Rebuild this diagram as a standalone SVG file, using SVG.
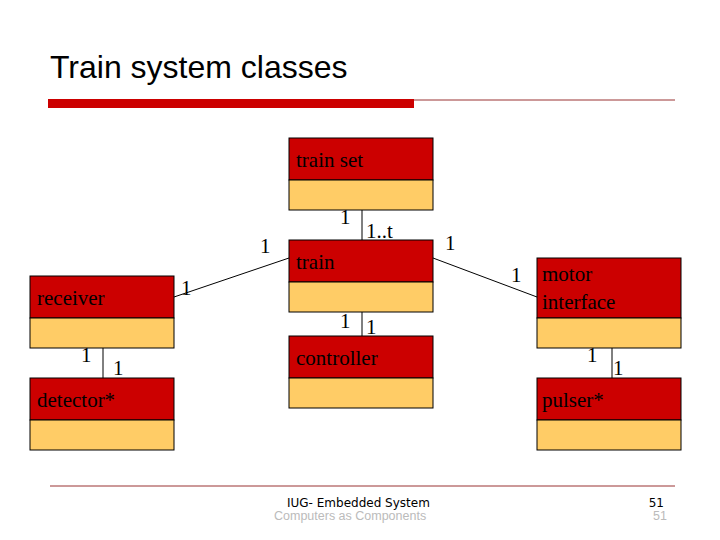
<svg xmlns="http://www.w3.org/2000/svg" width="720" height="540" viewBox="0 0 720 540">
<style>
.h{fill:#cc0000;stroke:#000;stroke-width:1}
.b{fill:#ffcc66;stroke:#000;stroke-width:1}
.t{font-family:"Liberation Serif",serif;font-size:21px;fill:#000}
.c{stroke:#000;stroke-width:1;fill:none}
</style>
<rect width="720" height="540" fill="#fff"/>
<text x="50" y="78" font-family="Liberation Sans,sans-serif" font-size="32" fill="#000">Train system classes</text>
<rect x="48" y="99" width="366" height="9" fill="#cc0000"/>
<line x1="414" y1="100" x2="675" y2="100" stroke="#993333" stroke-width="1"/>
<g id="connectors" class="c">
<line x1="362" y1="210" x2="362" y2="240"/>
<line x1="362" y1="312" x2="362" y2="336"/>
<line x1="174" y1="297" x2="289" y2="258"/>
<line x1="433" y1="258" x2="537" y2="297"/>
<line x1="103" y1="348" x2="103" y2="378"/>
<line x1="612" y1="348" x2="612" y2="378"/>
</g>
<g class="t">
<text x="340" y="224">1</text><text x="366" y="238">1..t</text>
<text x="340" y="328">1</text><text x="366" y="334">1</text>
<text x="260" y="253">1</text><text x="181" y="295">1</text>
<text x="445" y="250">1</text><text x="511" y="282">1</text>
<text x="81" y="362">1</text><text x="113" y="375">1</text>
<text x="587" y="362">1</text><text x="613" y="375">1</text>
</g>
<g id="trainset"><rect class="h" x="289" y="138" width="144" height="42"/><rect class="b" x="289" y="180" width="144" height="30"/><text class="t" x="296" y="167">train set</text></g>
<g id="train"><rect class="h" x="289" y="240" width="144" height="42"/><rect class="b" x="289" y="282" width="144" height="30"/><text class="t" x="296" y="269">train</text></g>
<g id="controller"><rect class="h" x="289" y="336" width="144" height="42"/><rect class="b" x="289" y="378" width="144" height="30"/><text class="t" x="296" y="365">controller</text></g>
<g id="receiver"><rect class="h" x="30" y="276" width="144" height="42"/><rect class="b" x="30" y="318" width="144" height="30"/><text class="t" x="37" y="305">receiver</text></g>
<g id="detector"><rect class="h" x="30" y="378" width="144" height="42"/><rect class="b" x="30" y="420" width="144" height="30"/><text class="t" x="37" y="407">detector*</text></g>
<g id="motor"><rect class="h" x="537" y="258" width="144" height="60"/><rect class="b" x="537" y="318" width="144" height="30"/><text class="t" x="542" y="281">motor</text><text class="t" x="542" y="309">interface</text></g>
<g id="pulser"><rect class="h" x="537" y="378" width="144" height="42"/><rect class="b" x="537" y="420" width="144" height="30"/><text class="t" x="542" y="407">pulser*</text></g>
<line x1="50" y1="486" x2="675" y2="486" stroke="#993333" stroke-width="1"/>
<text x="287" y="507" font-family="DejaVu Sans,sans-serif" font-size="12" fill="#000">IUG- Embedded System</text>
<text x="274" y="520" font-family="Liberation Sans,sans-serif" font-size="12.5" fill="#bbb">Computers as Components</text>
<text x="664" y="507" text-anchor="end" font-family="DejaVu Sans,sans-serif" font-size="12" fill="#000">51</text>
<text x="667" y="520" text-anchor="end" font-family="Liberation Sans,sans-serif" font-size="12.5" fill="#bbb">51</text>
</svg>
